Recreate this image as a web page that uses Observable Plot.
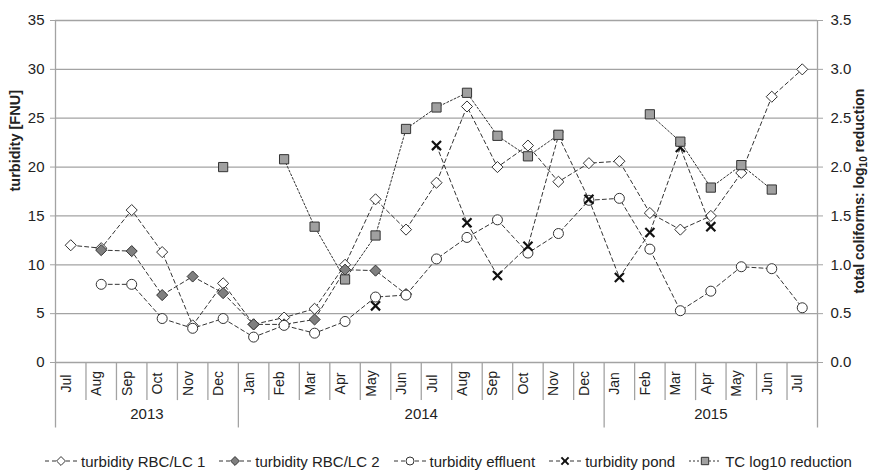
<!DOCTYPE html>
<html>
<head>
<meta charset="utf-8">
<script src="https://cdn.jsdelivr.net/npm/d3@7"></script>
<script src="https://cdn.jsdelivr.net/npm/@observablehq/plot@0.6"></script>
<style>
  html, body { margin: 0; padding: 0; background: #ffffff; }
  body { position: relative; width: 872px; height: 471px; overflow: hidden;
         font-family: "Liberation Sans", Arial, sans-serif; color: #222; }
  #legend { position: absolute; left: 12px; top: 451px; width: 872px; height: 20px;
            display: flex; justify-content: center; align-items: center; gap: 13px;
            font-size: 15px; color: #222; }
  #legend .item { display: flex; align-items: center; gap: 3px; white-space: nowrap; }
</style>
</head>
<body>
<div id="chart"></div>
<div id="legend"></div>
<script>
// ---- data ----
const months = ["Jul","Aug","Sep","Oct","Nov","Dec","Jan","Feb","Mar","Apr","May","Jun","Jul","Aug","Sep","Oct","Nov","Dec","Jan","Feb","Mar","Apr","May","Jun","Jul"];
const monthYears = [2013,2013,2013,2013,2013,2013,2014,2014,2014,2014,2014,2014,2014,2014,2014,2014,2014,2014,2015,2015,2015,2015,2015,2015,2015];
const years = [2013, 2014, 2015];
const turbidityRBC1 = [12.0, 11.7, 15.6, 11.3, 3.8, 8.1, 3.9, 4.6, 5.5, 10.0, 16.7, 13.6, 18.4, 26.2, 20.0, 22.2, 18.5, 20.4, 20.6, 15.3, 13.6, 15.0, 19.4, 27.2, 30.0];
const turbidityRBC2 = [null, 11.5, 11.4, 6.9, 8.8, 7.1, 3.9, 3.9, 4.4, 9.5, 9.4, 7.0, null, null, null, null, null, null, null, null, null, null, null, null, null];
const turbidityEffluent = [null, 8.0, 8.0, 4.5, 3.5, 4.5, 2.6, 3.8, 3.0, 4.2, 6.7, 6.9, 10.6, 12.8, 14.6, 11.2, 13.2, 16.6, 16.8, 11.6, 5.3, 7.3, 9.8, 9.6, 5.6];
const turbidityPond = [null, null, null, null, null, null, null, null, null, null, 5.8, null, 22.2, 14.3, 8.9, 11.9, 23.2, 16.7, 8.7, 13.3, 22.0, 13.9, null, null, null];
const tcLog10Reduction = [null, null, null, null, null, 2.00, null, 2.08, 1.39, 0.85, 1.30, 2.39, 2.61, 2.76, 2.32, 2.11, 2.33, null, null, 2.54, 2.26, 1.79, 2.02, 1.77, null];
const yTicksLeft = [0, 5, 10, 15, 20, 25, 30, 35];
const yTicksRight = [0.0, 0.5, 1.0, 1.5, 2.0, 2.5, 3.0, 3.5];
const leftTitle = "turbidity [FNU]";
const rightTitle = ["total coliforms: log", "10", " reduction"];

// ---- table ----
const ratio = 10; // right axis value * ratio = left axis value
const rows = months.map((m, i) => ({
  i, m,
  rbc1: turbidityRBC1[i], rbc2: turbidityRBC2[i], eff: turbidityEffluent[i],
  pond: turbidityPond[i], tc: tcLog10Reduction[i] == null ? NaN : tcLog10Reduction[i] * ratio
}));
const monthBounds = d3.range(1, months.length);
const yearBounds = [0];
monthYears.forEach((y, i) => { if (i > 0 && y !== monthYears[i - 1]) yearBounds.push(i); });
yearBounds.push(months.length);
const yearLabels = years.map(y => {
  const idx = monthYears.map((v, i) => v === y ? i : -1).filter(i => i >= 0);
  return { year: String(y), x: (d3.min(idx) + d3.max(idx) + 1) / 2 };
});
const monthBoundsInner = monthBounds.filter(b => !yearBounds.includes(b));

const ink = "#333";
const gridColor = "#a3a3a3";
const cx = d => d.i + 0.5;

const series = [
  { key: "rbc1", label: "turbidity RBC/LC 1", symbol: "diamond2", r: 5, fill: "white", stroke: ink, dash: "4,3", sw: 1 },
  { key: "rbc2", label: "turbidity RBC/LC 2", symbol: "diamond2", r: 5, fill: "#7f7f7f", stroke: ink, dash: "4,3", sw: 1 },
  { key: "eff",  label: "turbidity effluent", symbol: "circle", r: 5, fill: "white", stroke: ink, dash: "4,3", sw: 1 },
  { key: "pond", label: "turbidity pond", symbol: "times", r: 4.2, fill: "none", stroke: "#111", dash: "4,3", sw: 2.2 },
  { key: "tc",   label: "TC log10 reduction", symbol: "square", r: 5.2, fill: "#a0a0a0", stroke: ink, dash: "2,2", sw: 1 }
];

const marks = [
  Plot.ruleY(yTicksLeft, { y: d => d, stroke: gridColor, strokeWidth: 1.3 }),
  // month separators below axis
  Plot.ruleX(monthBoundsInner, { x: d => d, y1: 0, y2: -3.9, stroke: gridColor, strokeWidth: 1.3 }),
  // year separators
  Plot.ruleX(yearBounds, { x: d => d, y1: d => (d === 0 || d === months.length) ? 35 : 0, y2: -6.7, stroke: gridColor, strokeWidth: 1.3 }),
  Plot.axisY({ anchor: "left", ticks: yTicksLeft, tickSize: 5, tickPadding: 6, fontSize: 15, label: null, stroke: gridColor, fill: "#222" }),
  Plot.axisY({ anchor: "right", ticks: yTicksLeft, tickFormat: d => (d / ratio).toFixed(1), tickSize: 5, tickPadding: 8, fontSize: 15, label: null, stroke: gridColor, fill: "#222" }),
  Plot.text(rows, { x: cx, text: "m", frameAnchor: "bottom", dy: 21, rotate: -90, textAnchor: "middle", fontSize: 14, fill: "#222" }),
  Plot.text(yearLabels, { x: "x", text: "year", frameAnchor: "bottom", dy: 56, textAnchor: "middle", fontSize: 15, fill: "#222" }),
  Plot.text([leftTitle], { text: d => d, frameAnchor: "left", dx: -40, rotate: -90, fontSize: 14.5, fontWeight: "bold", fill: "#222" })
];
for (const s of series) {
  marks.push(Plot.line(rows, { x: cx, y: s.key, stroke: ink, strokeWidth: 1, strokeDasharray: s.dash }));
  marks.push(Plot.dot(rows, { x: cx, y: s.key, symbol: s.symbol, r: s.r, fill: s.fill, stroke: s.stroke, strokeWidth: s.sw === 2.2 ? 2.2 : 1 }));
}

const chart = Plot.plot({
  width: 872,
  height: 440,
  marginLeft: 55,
  marginRight: 55,
  marginTop: 20,
  marginBottom: 78,
  style: { fontFamily: "'Liberation Sans', Arial, sans-serif", background: "white", color: "#222" },
  x: { domain: [0, months.length], axis: null },
  y: { domain: [0, 35], axis: null },
  marks
});
document.getElementById("chart").appendChild(chart);

// right axis title with subscript
const svg = d3.select(chart);
const t = svg.append("text")
  .attr("transform", `translate(${872 - 12},${20 + (440 - 78 - 20) / 2}) rotate(-90)`)
  .attr("text-anchor", "middle")
  .attr("dominant-baseline", "middle")
  .attr("font-size", 14)
  .attr("font-weight", "bold")
  .attr("fill", "#222");
t.append("tspan").text(rightTitle[0]);
t.append("tspan").attr("font-size", 10).attr("dy", 4).text(rightTitle[1]);
t.append("tspan").attr("dy", -4).text(rightTitle[2]);

// legend
const legend = d3.select("#legend");
for (const s of series) {
  const item = legend.append("div").attr("class", "item");
  const sv = item.append("svg").attr("width", 34).attr("height", 14);
  sv.append("line").attr("x1", 1).attr("x2", 33).attr("y1", 7).attr("y2", 7)
    .attr("stroke", ink).attr("stroke-dasharray", s.dash);
  const symMap = { diamond2: d3.symbolDiamond2, circle: d3.symbolCircle, times: d3.symbolTimes, square: d3.symbolSquare };
  const sz = Math.PI * (s.r * 0.8) ** 2;
  sv.append("path").attr("transform", "translate(17,7)")
    .attr("d", d3.symbol(symMap[s.symbol], sz)())
    .attr("fill", s.fill).attr("stroke", s.stroke).attr("stroke-width", s.sw === 2.2 ? 2 : 1);
  item.append("span").text(s.label);
}
</script>
</body>
</html>
